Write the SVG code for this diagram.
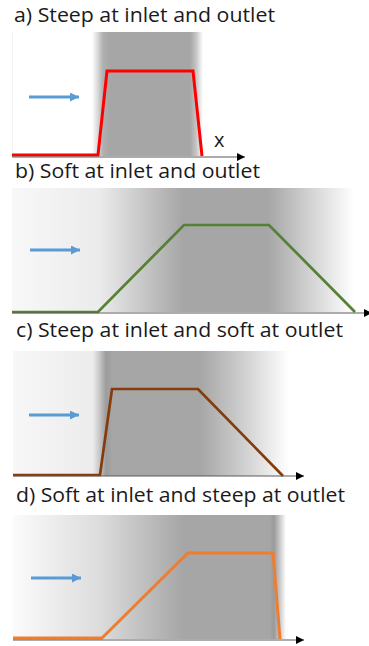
<svg xmlns="http://www.w3.org/2000/svg" width="369" height="646" viewBox="0 0 369 646">
<style>
.title{font-family:"Open Sans","Liberation Sans",sans-serif;font-size:19.5px;fill:#1a1a1a}
.axis{stroke:#5a5a5a;stroke-width:1.2;fill:none}
.flow{stroke:#5b9bd5;stroke-width:3;fill:none}
.prof{fill:none;stroke-linejoin:miter}
</style>
<defs>
<marker id="ax" viewBox="0 0 10 10" refX="10" refY="5" markerWidth="8" markerHeight="8" markerUnits="userSpaceOnUse" orient="auto"><path d="M0,0 L10,5 L0,10 z" fill="#000"/></marker>
<marker id="bl" viewBox="0 0 10 10" refX="10" refY="5" markerWidth="9" markerHeight="9" markerUnits="userSpaceOnUse" orient="auto"><path d="M0,0 L10,5 L0,10 z" fill="#5b9bd5"/></marker>
<linearGradient id="ga" gradientUnits="userSpaceOnUse" x1="12" y1="0" x2="203" y2="0">
<stop offset="0" stop-color="#eaeaea"/><stop offset="0.006" stop-color="#ffffff"/>
<stop offset="0.419" stop-color="#ffffff"/><stop offset="0.445" stop-color="#dedede"/>
<stop offset="0.476" stop-color="#b0b0b0"/><stop offset="0.513" stop-color="#a6a6a6"/>
<stop offset="0.932" stop-color="#a6a6a6"/><stop offset="0.963" stop-color="#c4c4c4"/>
<stop offset="1" stop-color="#ffffff"/>
</linearGradient>
<linearGradient id="gb" gradientUnits="userSpaceOnUse" x1="12" y1="0" x2="354" y2="0">
<stop offset="0" stop-color="#f8f8f8"/><stop offset="0.257" stop-color="#ebebeb"/>
<stop offset="0.5" stop-color="#a6a6a6"/><stop offset="0.749" stop-color="#a6a6a6"/>
<stop offset="0.845" stop-color="#c9c9c9"/><stop offset="1" stop-color="#ffffff"/>
</linearGradient>
<linearGradient id="gc" gradientUnits="userSpaceOnUse" x1="13" y1="0" x2="289" y2="0">
<stop offset="0" stop-color="#f7f7f7"/><stop offset="0.29" stop-color="#ececec"/>
<stop offset="0.315" stop-color="#c4c4c4"/><stop offset="0.337" stop-color="#9c9c9c"/>
<stop offset="0.36" stop-color="#a6a6a6"/><stop offset="0.678" stop-color="#a6a6a6"/>
<stop offset="0.82" stop-color="#cbcbcb"/><stop offset="1" stop-color="#ffffff"/>
</linearGradient>
<linearGradient id="gd" gradientUnits="userSpaceOnUse" x1="13" y1="0" x2="286" y2="0">
<stop offset="0" stop-color="#fbfbfb"/><stop offset="0.319" stop-color="#dcdcdc"/>
<stop offset="0.623" stop-color="#a6a6a6"/><stop offset="0.941" stop-color="#a6a6a6"/>
<stop offset="0.956" stop-color="#9a9a9a"/><stop offset="0.974" stop-color="#c2c2c2"/>
<stop offset="1" stop-color="#ffffff"/>
</linearGradient>
</defs>
<rect width="369" height="646" fill="#ffffff"/>

<g id="panel-a">
<text class="title" x="14" y="22" textLength="261" lengthAdjust="spacingAndGlyphs">a) Steep at inlet and outlet</text>
<rect x="12" y="32" width="191" height="124" fill="url(#ga)"/>
<polyline class="prof" points="12,155 98,155 107,71 193,71 202,156" stroke="#ff0000" stroke-width="3"/>
<text x="214" y="147" style="font-family:'Open Sans','Liberation Sans',sans-serif;font-size:20px;fill:#1a1a1a">x</text>
</g>

<g id="panel-b">
<text class="title" x="15" y="178" textLength="245" lengthAdjust="spacingAndGlyphs">b) Soft at inlet and outlet</text>
<rect x="12" y="188" width="342" height="124" fill="url(#gb)"/>
<polyline class="prof" points="12,312 98,312 184,225 269,225 355,312" stroke="#548235" stroke-width="2.7"/>
</g>

<g id="panel-c">
<text class="title" x="16" y="337" textLength="327" lengthAdjust="spacingAndGlyphs">c) Steep at inlet and soft at outlet</text>
<rect x="13" y="351" width="276" height="125" fill="url(#gc)"/>
<polyline class="prof" points="13,475 100,475 112,389 198,389 283,476" stroke="#843c0c" stroke-width="2.7"/>
</g>

<g id="panel-d">
<text class="title" x="16" y="502" textLength="329" lengthAdjust="spacingAndGlyphs">d) Soft at inlet and steep at outlet</text>
<rect x="13" y="515" width="273" height="124" fill="url(#gd)"/>
<polyline class="prof" points="13,638 102,638 188,553 273,553 280,639" stroke="#ed7d31" stroke-width="3"/>
</g>

<g id="connectors">
<line class="axis" x1="12" y1="157" x2="245" y2="157" marker-end="url(#ax)"/>
<line class="axis" x1="12" y1="313" x2="372" y2="313" marker-end="url(#ax)"/>
<line class="axis" x1="13" y1="476" x2="304" y2="476" marker-end="url(#ax)"/>
<line class="axis" x1="13" y1="640" x2="304" y2="640" marker-end="url(#ax)"/>
<line class="flow" x1="29" y1="97" x2="79" y2="97" marker-end="url(#bl)"/>
<line class="flow" x1="30" y1="250" x2="80" y2="250" marker-end="url(#bl)"/>
<line class="flow" x1="29" y1="415" x2="79" y2="415" marker-end="url(#bl)"/>
<line class="flow" x1="31" y1="578" x2="81" y2="578" marker-end="url(#bl)"/>
</g>
</svg>
